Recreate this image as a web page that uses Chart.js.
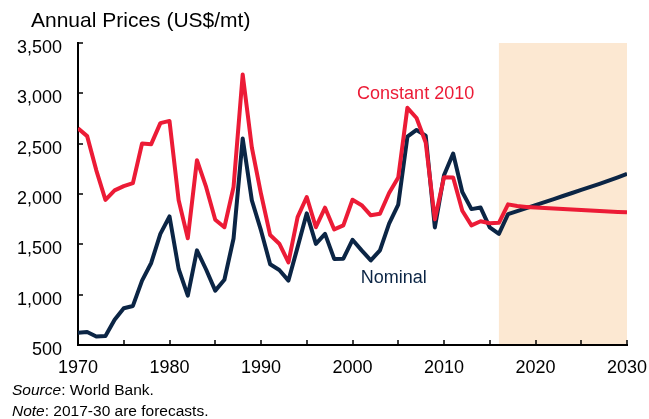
<!DOCTYPE html>
<html><head><meta charset="utf-8">
<script src="https://cdn.jsdelivr.net/npm/chart.js@4"></script>
<style>
html,body{margin:0;padding:0;background:#fff;}
#wrap{position:relative;width:649px;height:419px;overflow:hidden;font-family:"Liberation Sans",Arial,sans-serif;}
canvas{position:absolute;left:0;top:0;}
.t{position:absolute;white-space:nowrap;color:#000;}
</style></head><body>
<div id="wrap">
<canvas id="c" width="649" height="419"></canvas>
<div class="t" style="left:31px;top:9px;font-size:21px;line-height:21px;">Annual Prices (US$/mt)</div>
<div class="t" style="left:12px;top:382px;font-size:15.5px;line-height:15.5px;"><i>Source</i>: World Bank.</div>
<div class="t" style="left:12px;top:403px;font-size:15.5px;line-height:15.5px;"><i>Note</i>: 2017-30 are forecasts.</div>
</div>
<script>
const years = [1970,1971,1972,1973,1974,1975,1976,1977,1978,1979,
  1980,1981,1982,1983,1984,1985,1986,1987,1988,1989,
  1990,1991,1992,1993,1994,1995,1996,1997,1998,1999,
  2000,2001,2002,2003,2004,2005,2006,2007,2008,2009,
  2010,2011,2012,2013,2014,2015,2016,2017,2018,2019,
  2020,2021,2022,2023,2024,2025,2026,2027,2028,2029,2030];
const nominal = [622,629,585,590,750,865,888,1140,1315,1604,
  1777,1255,990,1440,1250,1040,1148,1558,2552,1937,
  1638,1302,1245,1140,1472,1808,1505,1604,1355,1357,
  1545,1440,1340,1440,1706,1895,2569,2636,2580,1668,
  2186,2402,2020,1850,1865,1668,1604,1800,1830,1860,
  1890,1920,1950,1980,2010,2040,2070,2100,2132,2165,2200];
const constant2010 = [2652,2575,2235,1942,2036,2078,2108,2502,2495,2704,
  2726,1938,1560,2336,2070,1745,1670,2070,3187,2462,
  2002,1592,1506,1321,1770,1970,1670,1864,1648,1688,
  1943,1889,1788,1804,2010,2165,2856,2755,2512,1748,
  2166,2164,1833,1688,1729,1710,1714,1897,1880,1872,
  1866,1861,1856,1851,1846,1841,1836,1831,1826,1822,1818];
const xTickMarks = [1970,1975,1980,1985,1990,1995,2000,2005,2010,2015,2020,2025,2030];
const xTickLabels = [1970,1980,1990,2000,2010,2020,2030];
const yTicks = [500,1000,1500,2000,2500,3000,3500];
const forecastStart = 2016, forecastEnd = 2030;
const seriesNames = ['Nominal','Constant 2010'];

const NAVY = '#0B2545', RED = '#EC1B36', SHADE = '#FCE8D2';
const FONT = '"Liberation Sans", Arial, sans-serif';

const labelAnchors = [
  {text:'Nominal', x:2004.5, y:1170, color:NAVY},
  {text:'Constant 2010', x:2006.9, y:2995, color:RED}
];

const plugin = {
  id:'extras',
  beforeDraw(chart){
    const {ctx, chartArea:a, scales:{x}} = chart;
    const x1 = x.getPixelForValue(forecastStart), x2 = x.getPixelForValue(forecastEnd);
    ctx.save(); ctx.fillStyle = SHADE; ctx.fillRect(x1, a.top, x2-x1, a.bottom-a.top); ctx.restore();
  },
  afterDatasetsDraw(chart){
    const {ctx, chartArea:a, scales:{x,y}} = chart;
    ctx.save();
    ctx.strokeStyle = '#000'; ctx.lineWidth = 1.5;
    ctx.beginPath();
    xTickMarks.forEach(v=>{ const px = Math.round(x.getPixelForValue(v)); ctx.moveTo(px, a.bottom); ctx.lineTo(px, a.bottom-5); });
    yTicks.forEach(v=>{ const py = Math.round(y.getPixelForValue(v)); ctx.moveTo(a.left, py); ctx.lineTo(a.left+5, py); });
    ctx.stroke();
    ctx.font = '18px ' + FONT; ctx.textAlign = 'center'; ctx.textBaseline = 'middle';
    labelAnchors.forEach(l=>{ ctx.fillStyle = l.color; ctx.fillText(l.text, x.getPixelForValue(l.x), y.getPixelForValue(l.y)); });
    ctx.restore();
  }
};

new Chart(document.getElementById('c'), {
  type:'line',
  data:{ datasets:[
    {label:seriesNames[1], data: years.map((yr,i)=>({x:yr, y:constant2010[i]})), borderColor:RED, borderWidth:4, borderJoinStyle:'round', pointRadius:0, tension:0, fill:false},
    {label:seriesNames[0], data: years.map((yr,i)=>({x:yr, y:nominal[i]})), borderColor:NAVY, borderWidth:4, borderJoinStyle:'round', pointRadius:0, tension:0, fill:false}
  ]},
  options:{
    responsive:false, animation:false, devicePixelRatio:1,
    layout:{padding:{top:43, right:22, bottom:0, left:0}},
    plugins:{legend:{display:false}, tooltip:{enabled:false}, title:{display:false}},
    scales:{
      x:{ type:'linear', min:1970, max:2030,
        afterBuildTicks(s){ s.ticks = xTickMarks.map(v=>({value:v})); },
        afterFit(s){ s.height = 74; s.paddingRight = 0; s.paddingLeft = 0; },
        grid:{display:true, drawOnChartArea:false, drawTicks:false},
        border:{display:true, color:'#000', width:2},
        ticks:{ color:'#000', font:{family:FONT, size:18}, padding:12, maxRotation:0, autoSkip:false,
          callback:(v)=> xTickLabels.includes(v) ? String(v) : '' }
      },
      y:{ type:'linear', min:500, max:3500,
        afterBuildTicks(s){ s.ticks = yTicks.map(v=>({value:v})); },
        afterFit(s){ s.width = 78; s.paddingTop = 0; s.paddingBottom = 0; },
        grid:{display:true, drawOnChartArea:false, drawTicks:false},
        border:{display:true, color:'#000', width:2},
        ticks:{ color:'#000', font:{family:FONT, size:18}, padding:16, labelOffset:5,
          callback:(v)=> v.toLocaleString('en-US') }
      }
    }
  },
  plugins:[plugin]
});
</script>
</body></html>
